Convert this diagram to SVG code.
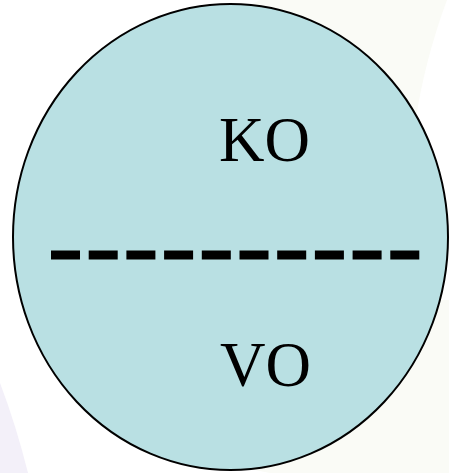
<svg xmlns="http://www.w3.org/2000/svg" width="449" height="473" viewBox="0 0 449 473">
  <style>
    .lbl { font-family: "Liberation Serif", "Times New Roman", serif; font-size: 63px; fill: #000; }
  </style>
  <rect x="0" y="0" width="449" height="473" fill="#ffffff"/>
  <path d="M 240 10 L 260 0 L 447 0 C 432 40 422 80 416 118 L 430 300 L 449 300 L 449 473 L 270 473 L 230 465 Z" fill="#fafbf6"/>
  <path d="M 0 383 Q 16 425 28 473 L 0 473 Z" fill="#f3f0f9"/>
  <g id="circle">
    <ellipse cx="230.5" cy="237" rx="217.5" ry="233" fill="#b9e0e3" stroke="#000" stroke-width="2"/>
  </g>
  <g id="connectors">
    <line x1="51" y1="255" x2="419.3" y2="255" stroke="#000" stroke-width="9" stroke-dasharray="29 8.7"/>
  </g>
  <g id="ko">
    <text class="lbl" x="219" y="161">KO</text>
  </g>
  <g id="vo">
    <text class="lbl" x="220" y="386">VO</text>
  </g>
</svg>
